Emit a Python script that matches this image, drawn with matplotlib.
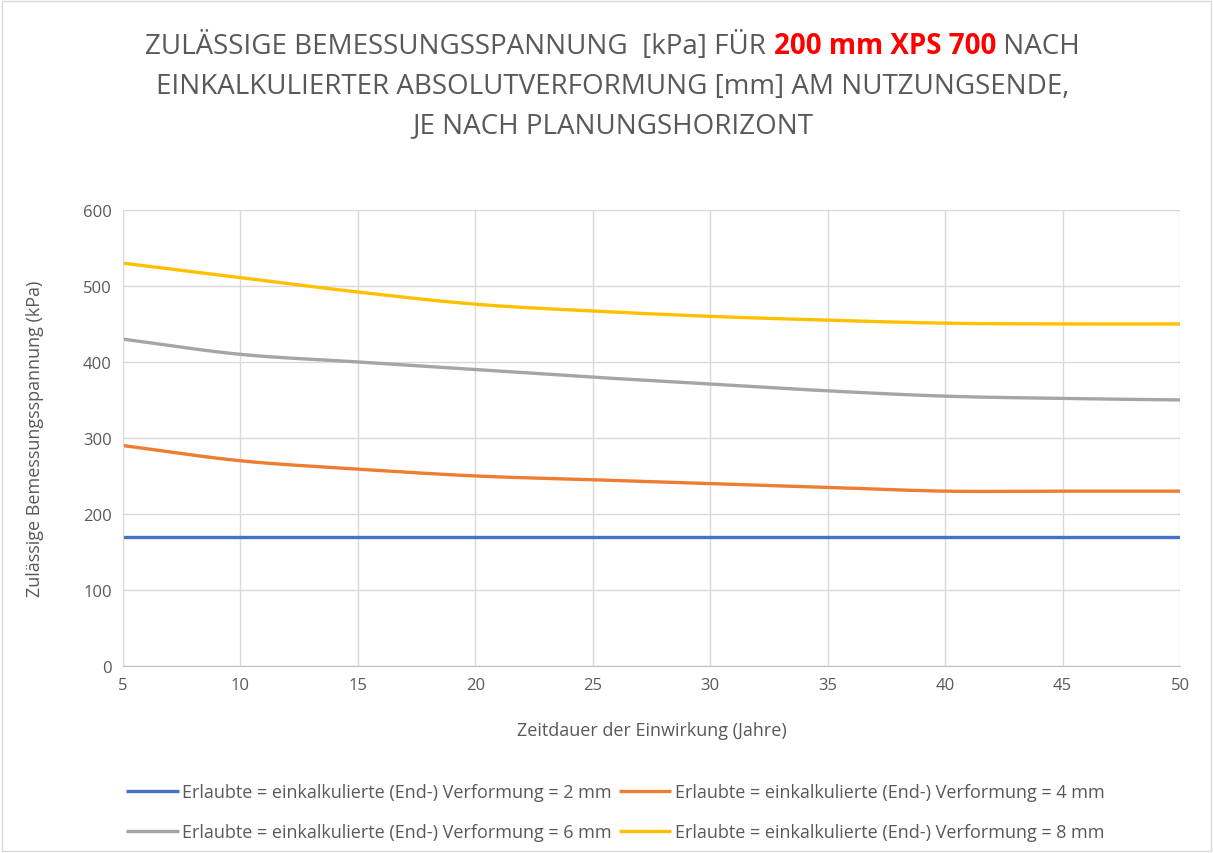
import matplotlib.pyplot as plt
import numpy as np
from matplotlib.offsetbox import TextArea, HPacker, VPacker, AnchoredOffsetbox

# Daten
jahre = [5, 10, 15, 20, 25, 30, 35, 40, 45, 50]
verf_2mm = [170, 170, 170, 170, 170, 170, 170, 170, 170, 170]
verf_4mm = [290, 270, 259, 250, 245, 240, 235, 230, 230, 230]
verf_6mm = [430, 410, 400, 390, 380, 371, 362, 355, 352, 350]
verf_8mm = [530, 511, 492, 476, 467, 460, 455, 451, 450, 450]

labels = ["Erlaubte = einkalkulierte (End-) Verformung = 2 mm",
          "Erlaubte = einkalkulierte (End-) Verformung = 4 mm",
          "Erlaubte = einkalkulierte (End-) Verformung = 6 mm",
          "Erlaubte = einkalkulierte (End-) Verformung = 8 mm"]
farben = ["#4472C4", "#ED7D31", "#A5A5A5", "#FFC000"]

TXT = "#595959"
plt.rcParams['font.family'] = ['Open Sans', 'DejaVu Sans']


def glatt(x, y, n=20):
    """Catmull-Rom Glättung wie in Excel (nur für die Darstellung)"""
    x = np.asarray(x, float)
    y = np.asarray(y, float)
    px = np.concatenate([[2 * x[0] - x[1]], x, [2 * x[-1] - x[-2]]])
    py = np.concatenate([[2 * y[0] - y[1]], y, [2 * y[-1] - y[-2]]])
    xs, ys = [], []
    t = np.linspace(0, 1, n, endpoint=False)
    for i in range(1, len(px) - 2):
        for p, out in ((px, xs), (py, ys)):
            p0, p1, p2, p3 = p[i - 1], p[i], p[i + 1], p[i + 2]
            out.extend(0.5 * ((2 * p1) + (-p0 + p2) * t
                              + (2 * p0 - 5 * p1 + 4 * p2 - p3) * t ** 2
                              + (-p0 + 3 * p1 - 3 * p2 + p3) * t ** 3))
    xs.append(x[-1])
    ys.append(y[-1])
    return np.array(xs), np.array(ys)


fig = plt.figure(figsize=(12.13, 8.54), dpi=100)
ax = fig.add_axes([0.1014, 0.219, 0.8714, 0.534])

linien = []
for werte, farbe, lab in zip([verf_2mm, verf_4mm, verf_6mm, verf_8mm], farben, labels):
    gx, gy = glatt(jahre, werte)
    l, = ax.plot(gx, gy, color=farbe, lw=2.4, label=lab, solid_capstyle='butt')
    linien.append(l)

ax.set_xlim(5, 50)
ax.set_ylim(0, 600)
ax.set_xticks(range(5, 51, 5))
ax.set_yticks(range(0, 601, 100))
ax.grid(True, color='#d9d9d9', lw=1)
ax.set_axisbelow(True)
for s in ['top', 'right']:
    ax.spines[s].set_visible(False)
ax.spines['bottom'].set_color('#bfbfbf')
ax.spines['left'].set_color('#d9d9d9')
ax.tick_params(length=0, colors=TXT, labelsize=12, pad=8)
ax.set_xlabel('Zeitdauer der Einwirkung (Jahre)', fontsize=13, color=TXT, labelpad=20)
ax.set_ylabel('Zulässige Bemessungsspannung (kPa)', fontsize=13, color=TXT, labelpad=28)

# Legende zeilenweise (2 Spalten)
reihenfolge = [0, 2, 1, 3]
ax.legend([linien[i] for i in reihenfolge], [labels[i] for i in reihenfolge],
          loc='upper center', bbox_to_anchor=(0.466, -0.222), bbox_transform=ax.transAxes,
          ncol=2, frameon=False, fontsize=13, labelcolor=TXT, handlelength=2.9,
          handletextpad=0.2, columnspacing=0.4, labelspacing=1.2)

# Titel mit rotem Teil
fs = 20
zeile1 = HPacker(children=[
    TextArea("ZULÄSSIGE BEMESSUNGSSPANNUNG  [kPa] FÜR ", textprops=dict(color=TXT, fontsize=fs)),
    TextArea("200 mm XPS 700", textprops=dict(color='#FF0000', fontsize=fs, fontweight='bold')),
    TextArea(" NACH", textprops=dict(color=TXT, fontsize=fs)),
], align='baseline', pad=0, sep=0)
zeile2 = TextArea("EINKALKULIERTER ABSOLUTVERFORMUNG [mm] AM NUTZUNGSENDE,", textprops=dict(color=TXT, fontsize=fs))
zeile3 = TextArea("JE NACH PLANUNGSHORIZONT", textprops=dict(color=TXT, fontsize=fs))
titel = VPacker(children=[zeile1, zeile2, zeile3], align='center', pad=0, sep=8)
box = AnchoredOffsetbox(loc='upper center', child=titel, frameon=False,
                        bbox_to_anchor=(0.505, 0.962), bbox_transform=fig.transFigure, pad=0, borderpad=0)
fig.add_artist(box)

# Rahmen
fig.patches.append(plt.Rectangle((0.002, 0.002), 0.996, 0.996, transform=fig.transFigure,
                                 fill=False, edgecolor='#d9d9d9', lw=1))

fig.savefig('out.png', dpi=100)
